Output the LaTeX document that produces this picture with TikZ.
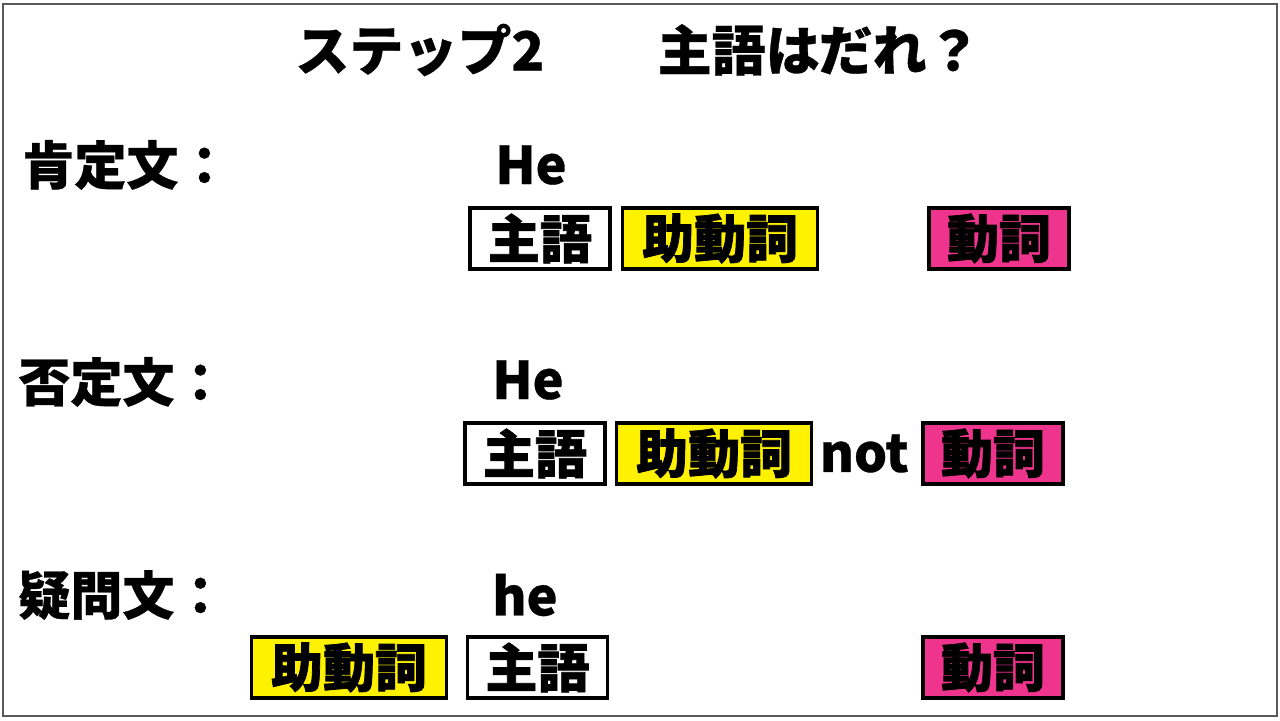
\documentclass[tikz,border=0pt]{standalone}
\usepackage{fontspec}
\setmainfont{Noto Sans CJK JP}[UprightFont=* Black, FakeBold=0.6]
\newfontfamily\boxfont{Noto Sans CJK JP}[UprightFont=* Black, FakeBold=1.4]
\usetikzlibrary{positioning}
\definecolor{verbpink}{RGB}{238,52,140}

\begin{document}
\begin{tikzpicture}[x=0.5pt,y=-0.5pt,
	basic/.style  = {draw, line width=1.8pt, inner sep=0pt, minimum height=30.5pt, font=\boxfont\fontsize{26pt}{26pt}\selectfont},
	subj/.style   = {basic, fill=white, minimum width=70pt},
	aux/.style    = {basic, fill=yellow, minimum width=97.5pt},
	verb/.style   = {basic, fill=verbpink, minimum width=70pt},
	label/.style  = {anchor=west, inner sep=0pt, font=\fontsize{26pt}{26pt}\selectfont},
	word/.style   = {anchor=west, inner sep=0pt, font=\fontsize{26pt}{26pt}\selectfont}]

	\useasboundingbox (0,0) rectangle (1280,721);
	\draw[gray!70!black, line width=0.8pt] (3,4) rectangle (1277,716);

	% title
	\node[label, anchor=center, font=\fontsize{27pt}{27pt}\selectfont] (title) at (638,50) {ステップ2\hspace{2.1em}主語はだれ？};

	% the three kinds of sentence
	\node[label] (pos) at (22,165) {肯定文：};
	\node[label] (neg) at (18,382) {否定文：};
	\node[label] (que) at (18,595) {疑問文：};

	\node[word] (he1) at (495,165) {He};
	\node[word] (he2) at (492,380) {He};
	\node[word] (he3) at (492,595) {he};

	% first row
	\node[subj] (s1) at (540,238.5) {主語};
	\node[aux, right=4.5pt of s1] (a1) {助動詞};
	\node[verb] (v1) at (999,238.5) {動詞};

	% second row
	\node[subj] (s2) at (535,453.5) {主語};
	\node[aux, right=4pt of s2] (a2) {助動詞};
	\node[word, right=3pt of a2] (not) {not};
	\node[verb] (v2) at (993,453.5) {動詞};

	% third row
	\node[aux] (a3) at (349,667.5) {助動詞};
	\node[subj] (s3) at (537.5,667.5) {主語};
	\node[verb] (v3) at (993,667.5) {動詞};

\end{tikzpicture}
\end{document}
